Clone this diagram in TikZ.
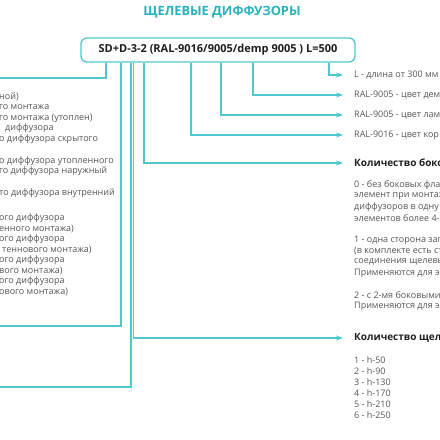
\documentclass[tikz,border=0pt]{standalone}
\usepackage{fontspec}
\setmainfont{Open Sans}
\usetikzlibrary{arrows.meta}
\definecolor{teal}{RGB}{78,200,205}
\definecolor{titleteal}{RGB}{40,178,188}
\definecolor{txtgray}{RGB}{85,85,85}
\definecolor{headgray}{RGB}{30,30,30}

\begin{document}
\begin{tikzpicture}[x=1pt,y=-1pt,
  conn/.style={draw=teal,line width=1.3pt},
  arr/.style={conn,-{Stealth[length=7pt,width=5pt]}},
  lbl/.style={anchor=west,inner xsep=11pt,inner ysep=0pt,font=\fontsize{9}{10}\selectfont,text=txtgray},
  head/.style={lbl,font=\fontsize{10}{12}\selectfont\bfseries,text=headgray},
  body/.style={anchor=west,inner sep=0pt,font=\fontsize{9}{10}\selectfont,text=txtgray},
  side/.style={anchor=west,inner sep=0pt,font=\fontsize{9}{10}\selectfont,text=txtgray}]
\useasboundingbox (0,0) rectangle (440,440);
\clip (0,0) rectangle (440,440);

% Title and code
\node (title) at (222,12) [font=\fontsize{12.8}{14}\selectfont\bfseries,text=titleteal] {ЩЕЛЕВЫЕ ДИФФУЗОРЫ};
\node (code) at (218,50) [draw=teal,line width=1.3pt,rounded corners=6pt,minimum width=274pt,minimum height=24pt,inner sep=0pt,font=\fontsize{11}{12}\selectfont\bfseries,text=headgray] {SD+D-3-2 (RAL-9016/9005/demp 9005 ) L=500};

% Labels on the right
\node (len) at (343,75) [lbl] {L - длина от 300 мм};
\node (demp) at (343,95) [lbl] {RAL-9005 - цвет дем};
\node (lam) at (343,115) [lbl] {RAL-9005 - цвет лам};
\node (body) at (343,135) [lbl] {RAL-9016 - цвет кор};
\node (sides) at (343,163) [head] {Количество боков};
\node (slots) at (343,338) [head] {Количество щел};

% Side flange text
\node at (354,185) [side] {0 - без боковых фла};
\node at (354,196) [side] {элемент при монтаж};
\node at (354,207) [side] {диффузоров в одну};
\node at (354,218) [side] {элементов более 4-х};
\node at (354,240) [side] {1 - одна сторона заг};
\node at (354,251) [side] {(в комплекте есть ст};
\node at (354,262) [side] {соединения щелевы};
\node at (354,273) [side] {Применяются для эл};
\node at (354,295) [side] {2 - с 2-мя боковыми};
\node at (354,306) [side] {Применяются для эл};

% Slot count list
\foreach \n/\h [count=\i from 0] in {1/50,2/90,3/130,4/170,5/210,6/250}
  \node at (354,360+11*\i) [side] {\n{} - h-\h};

% Left panel text
\node at (-1,97) [body] {ной)};
\node at (-1,107.5) [body] {го монтажа};
\node at (-1,118) [body] {го монтажа (утоплен)};
\node at (5,128.5) [body] {диффузора};
\node at (-1,139) [body] {о диффузора скрытого};
\node at (-1,161) [body] {о диффузора утопленного};
\node at (-1,171.5) [body] {го диффузора наружный};
\node at (-1,193) [body] {то диффузора внутренний};
\node at (-1,218) [body] {ого диффузора};
\node at (-1,228.5) [body] {енного монтажа)};
\node at (-1,239) [body] {ого диффузора};
\node at (2,249.5) [body] {теннового монтажа)};
\node at (-1,260) [body] {ого диффузора};
\node at (-1,270.5) [body] {вого монтажа)};
\node at (-1,281) [body] {ого диффузора};
\node at (-1,291.5) [body] {ового монтажа)};

% Free ends to the left
\coordinate (outA) at (-5,78);
\coordinate (outB) at (-5,326);
\coordinate (outC) at (-5,387);

% Connectors
\draw[conn] (code.south -| 106,0) |- (outA);
\draw[conn] (code.south -| 121,0) |- (outB);
\draw[conn] (code.south -| 131,0) |- (outC);
\draw[arr] (code.south -| 133.5,0) |- (slots.west);
\draw[arr] (code.south -| 144,0) |- (sides.west);
\draw[arr] (code.south -| 191,0) |- (body.west);
\draw[arr] (code.south -| 221,0) |- (lam.west);
\draw[arr] (code.south -| 253,0) |- (demp.west);
\draw[arr] (code.south -| 329,0) |- (len.west);
\end{tikzpicture}
\end{document}
